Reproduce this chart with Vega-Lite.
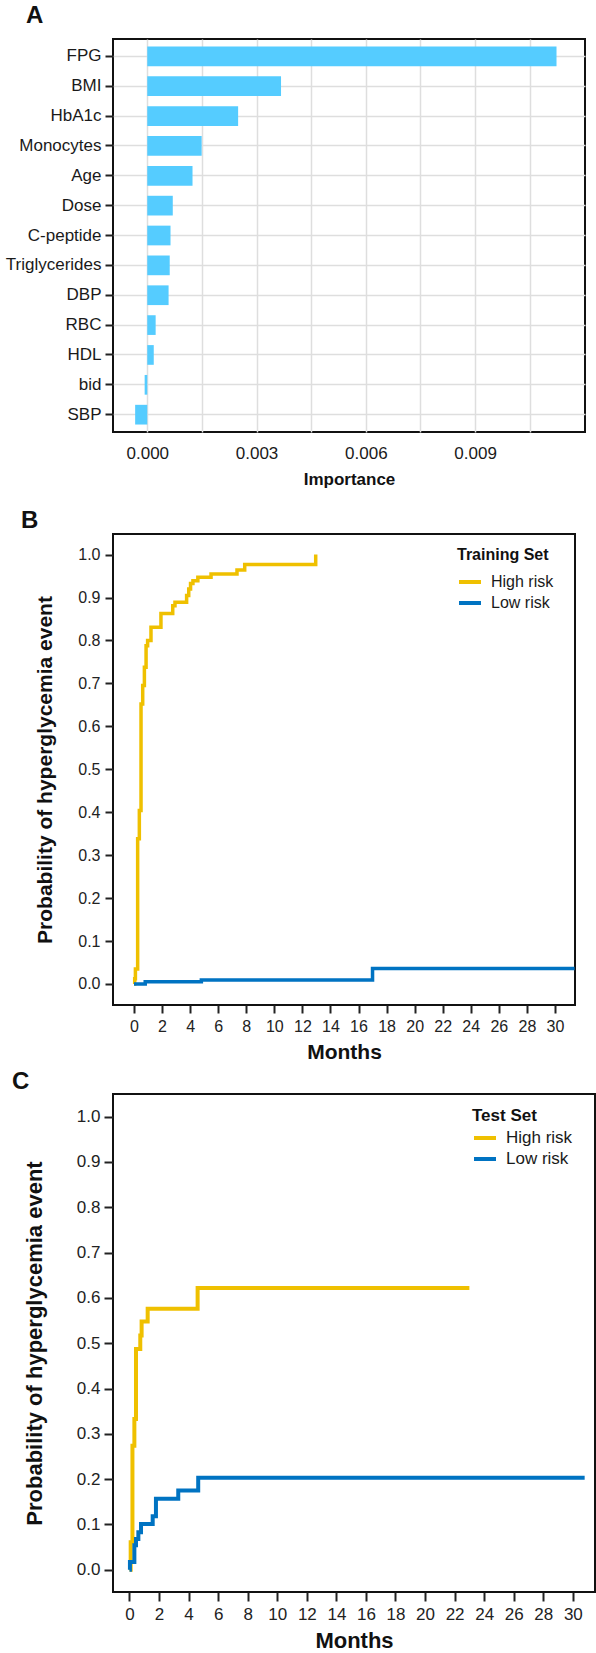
{
  "$schema": "https://vega.github.io/schema/vega-lite/v6.json",
  "padding": {"left": 4, "top": 3, "right": 0, "bottom": 0},
  "background": "white",
  "config": {
    "font": "Liberation Sans",
    "view": {"stroke": "#111", "strokeWidth": 2},
    "axis": {"labelColor": "#222", "titleColor": "#111", "tickColor": "#222", "domain": false, "labelFont": "Liberation Sans", "titleFont": "Liberation Sans"},
    "legend": {"labelFont": "Liberation Sans", "titleFont": "Liberation Sans"}
  },
  "datasets": {
    "imp": [
      {"feature": "FPG", "importance": 0.011235},
      {"feature": "BMI", "importance": 0.003672},
      {"feature": "HbA1c", "importance": 0.002494},
      {"feature": "Monocytes", "importance": 0.001493},
      {"feature": "Age", "importance": 0.001242},
      {"feature": "Dose", "importance": 0.0007},
      {"feature": "C-peptide", "importance": 0.000638},
      {"feature": "Triglycerides", "importance": 0.000616},
      {"feature": "DBP", "importance": 0.000585},
      {"feature": "RBC", "importance": 0.00023},
      {"feature": "HDL", "importance": 0.000178},
      {"feature": "bid", "importance": -0.000072},
      {"feature": "SBP", "importance": -0.000333}
    ],
    "train": [
      {"group": "High risk", "month": 0, "prob": 0},
      {"group": "High risk", "month": 0.05, "prob": 0.012},
      {"group": "High risk", "month": 0.1, "prob": 0.035},
      {"group": "High risk", "month": 0.26, "prob": 0.338},
      {"group": "High risk", "month": 0.38, "prob": 0.404},
      {"group": "High risk", "month": 0.5, "prob": 0.652},
      {"group": "High risk", "month": 0.62, "prob": 0.695},
      {"group": "High risk", "month": 0.74, "prob": 0.7375},
      {"group": "High risk", "month": 0.86, "prob": 0.788},
      {"group": "High risk", "month": 0.97, "prob": 0.8},
      {"group": "High risk", "month": 1.21, "prob": 0.831},
      {"group": "High risk", "month": 1.92, "prob": 0.863},
      {"group": "High risk", "month": 2.76, "prob": 0.881},
      {"group": "High risk", "month": 2.92, "prob": 0.889},
      {"group": "High risk", "month": 3.75, "prob": 0.9045},
      {"group": "High risk", "month": 3.9, "prob": 0.92},
      {"group": "High risk", "month": 4.03, "prob": 0.933},
      {"group": "High risk", "month": 4.2, "prob": 0.939},
      {"group": "High risk", "month": 4.55, "prob": 0.947},
      {"group": "High risk", "month": 5.49, "prob": 0.955},
      {"group": "High risk", "month": 7.34, "prob": 0.964},
      {"group": "High risk", "month": 7.89, "prob": 0.977},
      {"group": "High risk", "month": 12.95, "prob": 1.0},
      {"group": "Low risk", "month": 0, "prob": 0},
      {"group": "Low risk", "month": 0.8, "prob": 0.005},
      {"group": "Low risk", "month": 4.8, "prob": 0.009},
      {"group": "Low risk", "month": 17.0, "prob": 0.036},
      {"group": "Low risk", "month": 31.4, "prob": 0.036}
    ],
    "test": [
      {"group": "High risk", "month": 0, "prob": 0},
      {"group": "High risk", "month": 0.08, "prob": 0.061},
      {"group": "High risk", "month": 0.2, "prob": 0.274},
      {"group": "High risk", "month": 0.33, "prob": 0.333},
      {"group": "High risk", "month": 0.44, "prob": 0.4875},
      {"group": "High risk", "month": 0.73, "prob": 0.517},
      {"group": "High risk", "month": 0.82, "prob": 0.548},
      {"group": "High risk", "month": 1.23, "prob": 0.576},
      {"group": "High risk", "month": 4.61, "prob": 0.622},
      {"group": "High risk", "month": 23.0, "prob": 0.622},
      {"group": "Low risk", "month": 0, "prob": 0},
      {"group": "Low risk", "month": 0.03, "prob": 0.017},
      {"group": "Low risk", "month": 0.33, "prob": 0.054},
      {"group": "Low risk", "month": 0.44, "prob": 0.068},
      {"group": "Low risk", "month": 0.6, "prob": 0.083},
      {"group": "Low risk", "month": 0.78, "prob": 0.101},
      {"group": "Low risk", "month": 1.57, "prob": 0.118},
      {"group": "Low risk", "month": 1.79, "prob": 0.157},
      {"group": "Low risk", "month": 3.3, "prob": 0.175},
      {"group": "Low risk", "month": 4.65, "prob": 0.203},
      {"group": "Low risk", "month": 30.8, "prob": 0.203}
    ]
  },
  "bounds": "flush",
  "spacing": 102,
  "vconcat": [
    {
      "width": 472,
      "height": 393,
      "title": {"text": "A", "anchor": "start", "frame": "group", "dx": -87, "dy": 23, "offset": 15, "baseline": "alphabetic", "fontSize": 24, "fontWeight": "bold", "color": "#111"},
      "data": {"name": "imp"},
      "mark": {"type": "bar", "color": "#55CCFF"},
      "encoding": {
        "y": {
          "field": "feature", "type": "nominal",
          "sort": ["FPG", "BMI", "HbA1c", "Monocytes", "Age", "Dose", "C-peptide", "Triglycerides", "DBP", "RBC", "HDL", "bid", "SBP"],
          "scale": {"paddingInner": 0.34, "paddingOuter": 0.25},
          "axis": {"title": null, "labelFontSize": 17, "labelColor": "#1a1a1a", "tickSize": 8, "tickWidth": 2, "labelPadding": 4, "grid": true, "gridColor": "#dedede", "gridWidth": 1.5, "bandPosition": 0.5}
        },
        "x": {
          "field": "importance", "type": "quantitative",
          "scale": {"domain": [-0.000941, 0.012017], "nice": false, "zero": false},
          "axis": {
            "title": "Importance", "titleFontSize": 17, "titleFontWeight": "bold", "titlePadding": 10,
            "values": [0, 0.0015, 0.003, 0.0045, 0.006, 0.0075, 0.009, 0.0105],
            "labelExpr": "indexof(['0.000','0.003','0.006','0.009'], format(datum.value, '.3f')) >= 0 ? format(datum.value, '.3f') : ''",
            "labelFontSize": 17, "labelColor": "#1a1a1a", "ticks": false, "labelPadding": 13,
            "grid": true, "gridColor": "#dedede", "gridWidth": 1.5
          }
        }
      }
    },
    {
      "bounds": "flush",
      "spacing": 89,
      "resolve": {"scale": {"color": "independent"}, "legend": {"color": "independent"}},
      "vconcat": [
        {
          "width": 462,
          "height": 471,
          "title": {"text": "B", "anchor": "start", "frame": "group", "dx": -92, "dy": 23, "offset": 5, "baseline": "alphabetic", "fontSize": 24, "fontWeight": "bold", "color": "#111"},
          "data": {"name": "train"},
          "mark": {"type": "line", "interpolate": "step-after", "strokeWidth": 3.5},
          "encoding": {
            "x": {
              "field": "month", "type": "quantitative",
              "scale": {"domain": [-1.497, 31.43], "nice": false, "zero": false},
              "axis": {"title": "Months", "titleFontSize": 21, "titleFontWeight": "bold", "titlePadding": 7, "values": [0,2,4,6,8,10,12,14,16,18,20,22,24,26,28,30], "labelFontSize": 16, "tickSize": 8, "tickWidth": 2, "labelPadding": 5, "grid": false}
            },
            "y": {
              "field": "prob", "type": "quantitative",
              "scale": {"domain": [-0.049, 1.048], "nice": false, "zero": false},
              "axis": {"title": "Probability of hyperglycemia event", "titleFontSize": 21, "titleFontWeight": "bold", "titleX": -62, "titleBaseline": "alphabetic", "values": [0,0.1,0.2,0.3,0.4,0.5,0.6,0.7,0.8,0.9,1.0], "format": ".1f", "labelFontSize": 16, "tickSize": 8, "tickWidth": 2, "labelPadding": 5, "grid": false}
            },
            "color": {
              "field": "group", "type": "nominal",
              "scale": {"domain": ["High risk", "Low risk"], "range": ["#EFC000", "#0073C2"]},
              "legend": {"title": "Training Set", "orient": "none", "legendX": 344, "legendY": 13, "padding": 0, "titleFontSize": 16, "titleFontWeight": "bold", "titleColor": "#111", "titlePadding": 6, "labelFontSize": 16, "labelColor": "#1a1a1a", "symbolType": "stroke", "symbolStrokeWidth": 4, "symbolSize": 484, "labelOffset": 8, "rowPadding": -2}
            }
          }
        },
        {
          "width": 482,
          "height": 498,
          "title": {"text": "C", "anchor": "start", "frame": "group", "dx": -101, "dy": 23, "offset": 4, "baseline": "alphabetic", "fontSize": 24, "fontWeight": "bold", "color": "#111"},
          "data": {"name": "test"},
          "mark": {"type": "line", "interpolate": "step-after", "strokeWidth": 4},
          "encoding": {
            "x": {
              "field": "month", "type": "quantitative",
              "scale": {"domain": [-1.116, 31.5], "nice": false, "zero": false},
              "axis": {"title": "Months", "titleFontSize": 22, "titleFontWeight": "bold", "titlePadding": 8, "values": [0,2,4,6,8,10,12,14,16,18,20,22,24,26,28,30], "labelFontSize": 17, "tickSize": 9, "tickWidth": 2, "labelPadding": 5, "grid": false}
            },
            "y": {
              "field": "prob", "type": "quantitative",
              "scale": {"domain": [-0.049, 1.05], "nice": false, "zero": false},
              "axis": {"title": "Probability of hyperglycemia event", "titleFontSize": 22, "titleFontWeight": "bold", "titleX": -72, "titleBaseline": "alphabetic", "values": [0,0.1,0.2,0.3,0.4,0.5,0.6,0.7,0.8,0.9,1.0], "format": ".1f", "labelFontSize": 17, "tickSize": 9, "tickWidth": 2, "labelPadding": 4, "grid": false}
            },
            "color": {
              "field": "group", "type": "nominal",
              "scale": {"domain": ["High risk", "Low risk"], "range": ["#EFC000", "#0073C2"]},
              "legend": {"title": "Test Set", "orient": "none", "legendX": 359, "legendY": 14, "padding": 0, "titleFontSize": 17, "titleFontWeight": "bold", "titleColor": "#111", "titlePadding": 0, "labelFontSize": 17, "labelColor": "#1a1a1a", "symbolType": "stroke", "symbolStrokeWidth": 4, "symbolSize": 484, "labelOffset": 8, "rowPadding": -2}
            }
          }
        }
      ]
    }
  ]
}
